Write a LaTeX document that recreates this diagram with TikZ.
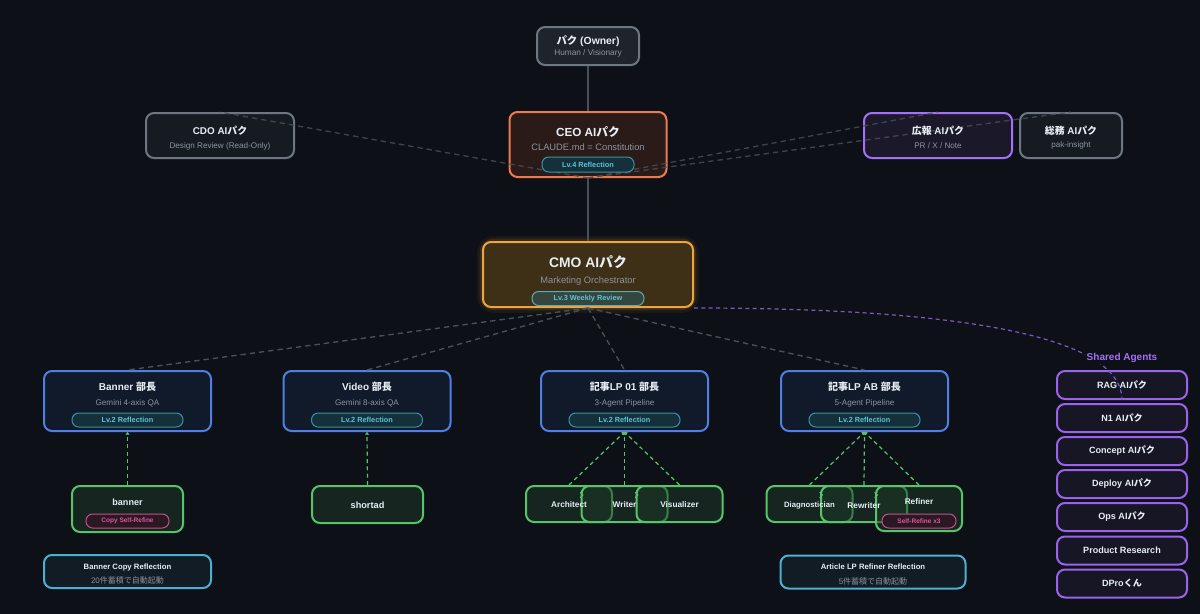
\documentclass[tikz,border=0pt]{standalone}
\usepackage{fontspec}
\setmainfont{Liberation Sans}
\newfontfamily\jp{Noto Sans CJK JP}
\usepackage{tikz}
\usetikzlibrary{arrows.meta}

\definecolor{bgdark}{HTML}{0D1117}
\definecolor{txtwhite}{HTML}{E6EDF3}
\definecolor{txtgray}{HTML}{8B949E}
\definecolor{cardgray}{HTML}{6E7681}
\definecolor{cardgrayfill}{HTML}{161B22}
\definecolor{ownerfill}{HTML}{1F242C}
\definecolor{ceoline}{HTML}{EE7A4E}
\definecolor{ceofill}{HTML}{2A1B19}
\definecolor{cmoline}{HTML}{F0A43A}
\definecolor{cmofill}{HTML}{3E2F17}
\definecolor{cmobadgefill}{HTML}{34463E}
\definecolor{prline}{HTML}{A371F7}
\definecolor{prfill}{HTML}{1B1829}
\definecolor{deptline}{HTML}{4F7FE3}
\definecolor{deptfill}{HTML}{111A2A}
\definecolor{agentline}{HTML}{57C46A}
\definecolor{agentfill}{HTML}{1F3A27}
\definecolor{reflline}{HTML}{4FAFD3}
\definecolor{reflfill}{HTML}{121C25}
\definecolor{badgeline}{HTML}{3A93A3}
\definecolor{badgefill}{HTML}{14303A}
\definecolor{badgetext}{HTML}{5CC3D8}
\definecolor{pinkline}{HTML}{C2508A}
\definecolor{pinkfill}{HTML}{2A1823}
\definecolor{pinktext}{HTML}{E0559E}
\definecolor{sharedline}{HTML}{9B62EA}
\definecolor{sharedfill}{HTML}{161625}
\definecolor{sharedtext}{HTML}{A371F7}
\definecolor{linegray}{HTML}{4A5058}
\definecolor{sharedlinkcol}{HTML}{7A58C8}

\tikzset{
  card/.style={rectangle, rounded corners=6pt, line width=1.5pt, inner sep=0pt},
  graycard/.style={card, draw=cardgray, fill=cardgrayfill},
  ceocard/.style={card, draw=ceoline, fill=ceofill},
  cmocard/.style={card, draw=cmoline, fill=cmofill, minimum width=157.5pt, minimum height=48.75pt},
  cmoglow/.style={card, draw=cmoline, rounded corners=8pt, minimum width=157.5pt, minimum height=48.75pt},
  prcard/.style={card, draw=prline, fill=prfill},
  deptcard/.style={card, draw=deptline, fill=deptfill, minimum width=125.25pt, minimum height=45pt},
  agentcard/.style={card, draw=agentline, fill=agentfill, fill opacity=0.5, minimum width=64.5pt, minimum height=27pt},
  reflcard/.style={card, draw=reflline, fill=reflfill, minimum height=24.75pt},
  sharedcard/.style={card, draw=sharedline, fill=sharedfill, minimum width=97.5pt, minimum height=21pt, text=txtwhite, font=\bfseries\fontsize{6.8pt}{8pt}\selectfont},
  badge/.style={rectangle, rounded corners=5pt, line width=0.75pt, draw=badgeline, fill=badgefill, text=badgetext, inner sep=0pt, minimum height=10.5pt, font=\bfseries\fontsize{5.5pt}{6pt}\selectfont},
  pinkbadge/.style={badge, draw=pinkline, fill=pinkfill, text=pinktext, font=\bfseries\fontsize{4.9pt}{6pt}\selectfont},
  cardtitle/.style={inner sep=0pt, text=txtwhite, font=\bfseries\fontsize{7.5pt}{9pt}\selectfont},
  cardsub/.style={inner sep=0pt, text=txtgray, font=\fontsize{6.1pt}{7pt}\selectfont},
  orgline/.style={draw=linegray, line width=0.9pt},
  reportline/.style={draw=linegray, line width=1pt, dash pattern=on 4pt off 3pt},
  agentlink/.style={draw=agentline, line width=0.9pt, dash pattern=on 3pt off 2.5pt, -{Triangle[length=2pt,width=3pt]}},
  pipearrow/.style={draw=agentline, line width=0.75pt, -{Straight Barb[length=2pt,width=4pt]}},
  sharedlink/.style={draw=sharedlinkcol, line width=0.9pt, dash pattern=on 3pt off 2.5pt},
}

\begin{document}
\begin{tikzpicture}[x=0.75pt,y=0.75pt,yscale=-1,xscale=1]
    \useasboundingbox (0,0) rectangle (1200,614);
    \fill[bgdark] (0,0) rectangle (1200,614);

    %Cards: top level
    \node[card, draw=cardgray, fill=ownerfill, minimum width=76.5pt, minimum height=28.5pt] (owner) at (588,46) {};
    \node[graycard, minimum width=111pt, minimum height=33.75pt] (cdo) at (220,135.5) {};
    \node[ceocard, minimum width=117.75pt, minimum height=48.75pt] (ceo) at (588,144.5) {};
    \node[prcard, minimum width=111pt, minimum height=33.75pt] (koho) at (938,135.5) {};
    \node[graycard, minimum width=76.5pt, minimum height=33.75pt] (somu) at (1071,135.5) {};

    %Cards: CMO with glow
    \node[cmoglow, line width=9pt, draw opacity=0.06] (cmoGlowA) at (588,274.5) {};
    \node[cmoglow, line width=5pt, draw opacity=0.12] (cmoGlowB) at (588,274.5) {};
    \node[cmocard] (cmo) at (588,274.5) {};

    %Cards: departments
    \node[deptcard] (dBanner) at (127.5,401) {};
    \node[deptcard] (dVideo) at (367,401) {};
    \node[deptcard] (dLp01) at (624.5,401) {};
    \node[deptcard] (dLpab) at (864.5,401) {};

    %Cards: agents
    \node[agentcard, minimum width=83.25pt, minimum height=34.5pt] (aBanner) at (127.5,509) {};
    \node[agentcard, minimum width=83.25pt, minimum height=27.75pt] (aShortad) at (367.5,504.5) {};
    \node[agentcard] (aArch) at (569,504) {};
    \node[agentcard] (aWriter) at (624.5,504) {};
    \node[agentcard] (aVis) at (679.5,504) {};
    \node[agentcard] (aDiag) at (809.5,504) {};
    \node[agentcard] (aRewr) at (864,504) {};
    \node[agentcard, minimum height=33.75pt] (aRefiner) at (919,508.5) {};

    %Cards: reflection
    \node[reflcard, minimum width=125.25pt] (rBanner) at (127.5,571.5) {};
    \node[reflcard, minimum width=138.75pt] (rArticle) at (873,572) {};

    %Cards: shared agents
    \node[sharedcard] (sRag) at (1122,385) {RAG AI{\jp パク}};
    \node[sharedcard] (sN1) at (1122,418) {N1 AI{\jp パク}};
    \node[sharedcard] (sConcept) at (1122,451) {Concept AI{\jp パク}};
    \node[sharedcard] (sDeploy) at (1122,484) {Deploy AI{\jp パク}};
    \node[sharedcard] (sOps) at (1122,517) {Ops AI{\jp パク}};
    \node[sharedcard] (sResearch) at (1122,550.5) {Product Research};
    \node[sharedcard] (sDpro) at (1122,583.5) {DPro{\jp くん}};

    %Connectors
    \draw[orgline] (owner) -- (ceo);
    \draw[orgline] (ceo) -- (cmo);
    \draw[reportline, draw opacity=0.8] (ceo.south) -- (cdo.north);
    \draw[reportline, draw opacity=0.8] (ceo.south) -- (koho.north);
    \draw[reportline, draw opacity=0.8] (ceo.south) -- (somu.north);
    \draw[reportline] (cmo.south) -- (dBanner.north);
    \draw[reportline] (cmo.south) -- (dVideo.north);
    \draw[reportline] (cmo.south) -- (dLp01.north);
    \draw[reportline] (cmo.south) -- (dLpab.north);
    \draw[sharedlink] (cmo.south east) .. controls +(187,0) and +(0,-78) .. (sRag.south);
    \draw[agentlink] (aBanner.north) -- (dBanner.south);
    \draw[agentlink] (aShortad.north) -- (dVideo.south);
    \draw[agentlink] (aArch.north) -- (dLp01.south);
    \draw[agentlink] (aWriter.north) -- (dLp01.south);
    \draw[agentlink] (aVis.north) -- (dLp01.south);
    \draw[agentlink] (aDiag.north) -- (dLpab.south);
    \draw[agentlink] (aRewr.north) -- (dLpab.south);
    \draw[agentlink] (aRefiner.north) -- (dLpab.south);
    \draw[pipearrow] (aWriter.north west) ++(0,10) -- ++(3,0);
    \draw[pipearrow] (aVis.north west) ++(0,10) -- ++(3,0);
    \draw[pipearrow] (aRewr.north west) ++(0,10) -- ++(3,0);
    \draw[pipearrow] (aRefiner.north west) ++(0,10) -- ++(3,0);

    %Badges
    \node[badge, minimum width=69pt, minimum height=11.25pt] (ceoB) at (588,164.5) {Lv.4 Reflection};
    \node[badge, fill=cmobadgefill, draw=badgeline!80!white, minimum width=84pt] (cmoB) at (588,298.5) {Lv.3 Weekly Review};
    \node[badge, minimum width=83.25pt] (dBannerB) at (127.5,420) {Lv.2 Reflection};
    \node[badge, minimum width=83.25pt] (dVideoB) at (367,420) {Lv.2 Reflection};
    \node[badge, minimum width=83.25pt] (dLp01B) at (624.5,420) {Lv.2 Reflection};
    \node[badge, minimum width=83.25pt] (dLpabB) at (864.5,420) {Lv.2 Reflection};
    \node[pinkbadge, minimum width=62.25pt] (aBannerB) at (127.5,521) {Copy Self-Refine};
    \node[pinkbadge, minimum width=55.5pt] (aRefinerB) at (919,521) {Self-Refine x3};

    % Text Node
    \node[cardtitle, font=\bfseries\fontsize{7.8pt}{9pt}\selectfont] (ownerT) at (588,41) {{\jp パク} (Owner)};
    \node[cardsub, font=\fontsize{6.2pt}{7pt}\selectfont] (ownerS) at (588,53.5) {Human / Visionary};
    % Text Node
    \node[cardtitle, font=\bfseries\fontsize{7.4pt}{9pt}\selectfont] (cdoT) at (220,131) {CDO AI{\jp パク}};
    \node[cardsub] (cdoS) at (220,146.5) {Design Review (Read-Only)};
    % Text Node
    \node[cardtitle, font=\bfseries\fontsize{8.8pt}{10pt}\selectfont] (ceoT) at (588,132) {CEO AI{\jp パク}};
    \node[cardsub, font=\fontsize{7pt}{8pt}\selectfont] (ceoS) at (588,147.5) {CLAUDE.md = Constitution};
    % Text Node
    \node[cardtitle, font=\bfseries\fontsize{7.4pt}{9pt}\selectfont] (kohoT) at (938,131) {{\jp 広報} AI{\jp パク}};
    \node[cardsub] (kohoS) at (938,145.5) {PR / X / Note};
    % Text Node
    \node[cardtitle, font=\bfseries\fontsize{7.4pt}{9pt}\selectfont] (somuT) at (1071,131) {{\jp 総務} AI{\jp パク}};
    \node[cardsub] (somuS) at (1071,145.5) {pak-insight};
    % Text Node
    \node[cardtitle, font=\bfseries\fontsize{10.4pt}{12pt}\selectfont] (cmoT) at (588,262) {CMO AI{\jp パク}};
    \node[cardsub, font=\fontsize{7pt}{8pt}\selectfont] (cmoS) at (588,281) {Marketing Orchestrator};
    % Text Node
    \node[cardtitle] (dBannerT) at (127.5,387) {Banner {\jp 部長}};
    \node[cardsub] (dBannerS) at (127.5,403) {Gemini 4-axis QA};
    \node[cardtitle] (dVideoT) at (367,387) {Video {\jp 部長}};
    \node[cardsub] (dVideoS) at (367,403) {Gemini 8-axis QA};
    \node[cardtitle] (dLp01T) at (624.5,387) {{\jp 記事}LP 01 {\jp 部長}};
    \node[cardsub] (dLp01S) at (624.5,403) {3-Agent Pipeline};
    \node[cardtitle] (dLpabT) at (864.5,387) {{\jp 記事}LP AB {\jp 部長}};
    \node[cardsub] (dLpabS) at (864.5,403) {5-Agent Pipeline};
    % Text Node
    \node[cardtitle, font=\bfseries\fontsize{6.8pt}{8pt}\selectfont] (aBannerT) at (127.5,502) {banner};
    \node[cardtitle, font=\bfseries\fontsize{6.9pt}{8pt}\selectfont] (aShortadT) at (367.5,505.5) {shortad};
    \node[cardtitle, font=\bfseries\fontsize{6.2pt}{8pt}\selectfont] (aArchT) at (569,505) {Architect};
    \node[cardtitle, font=\bfseries\fontsize{6.2pt}{8pt}\selectfont] (aWriterT) at (624.5,505) {Writer};
    \node[cardtitle, font=\bfseries\fontsize{6.2pt}{8pt}\selectfont] (aVisT) at (679.5,505) {Visualizer};
    \node[cardtitle, font=\bfseries\fontsize{5.8pt}{8pt}\selectfont] (aDiagT) at (809.5,506) {Diagnostician};
    \node[cardtitle, font=\bfseries\fontsize{6.2pt}{8pt}\selectfont] (aRewrT) at (864,506) {Rewriter};
    \node[cardtitle, font=\bfseries\fontsize{6.2pt}{8pt}\selectfont] (aRefinerT) at (919,502) {Refiner};
    % Text Node
    \node[cardtitle, font=\bfseries\fontsize{5.8pt}{7pt}\selectfont] (rBannerT) at (127.5,567) {Banner Copy Reflection};
    \node[cardsub, font=\fontsize{6pt}{7pt}\selectfont] (rBannerS) at (127.5,580.5) {20{\jp 件蓄積で自動起動}};
    \node[cardtitle, font=\bfseries\fontsize{5.8pt}{7pt}\selectfont] (rArticleT) at (873,567) {Article LP Refiner Reflection};
    \node[cardsub, font=\fontsize{6pt}{7pt}\selectfont] (rArticleS) at (873,581) {5{\jp 件蓄積で自動起動}};
    % Text Node
    \node[cardtitle, text=sharedtext, fill=bgdark, inner sep=1pt, font=\bfseries\fontsize{7.5pt}{9pt}\selectfont] (sharedL) at (1122,358) {Shared Agents};

\end{tikzpicture}
\end{document}
